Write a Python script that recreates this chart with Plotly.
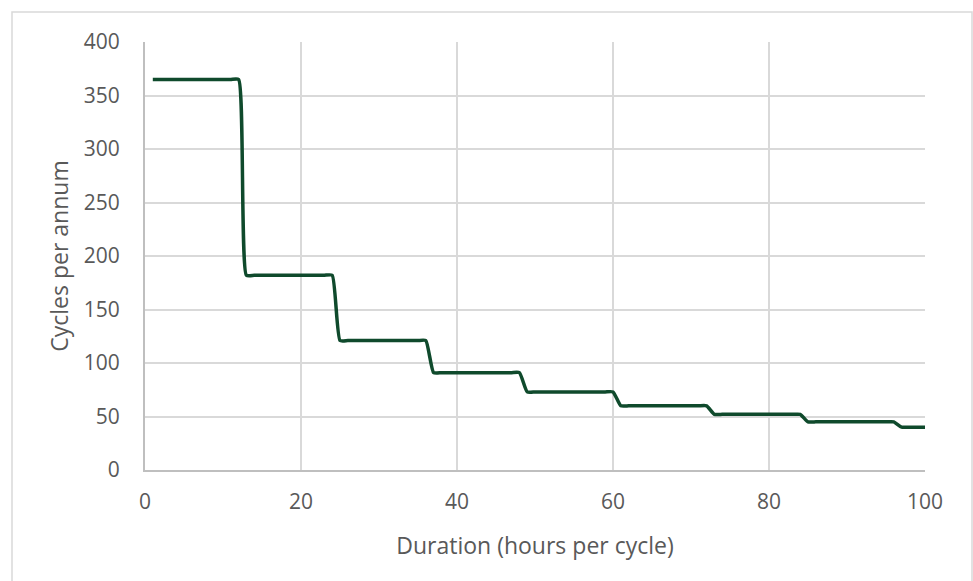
import plotly.graph_objects as go

hours = [1, 2, 3, 4, 5, 6, 7, 8, 9, 10,
         11, 12, 13, 14, 15, 16, 17, 18, 19, 20,
         21, 22, 23, 24, 25, 26, 27, 28, 29, 30,
         31, 32, 33, 34, 35, 36, 37, 38, 39, 40,
         41, 42, 43, 44, 45, 46, 47, 48, 49, 50,
         51, 52, 53, 54, 55, 56, 57, 58, 59, 60,
         61, 62, 63, 64, 65, 66, 67, 68, 69, 70,
         71, 72, 73, 74, 75, 76, 77, 78, 79, 80,
         81, 82, 83, 84, 85, 86, 87, 88, 89, 90,
         91, 92, 93, 94, 95, 96, 97, 98, 99, 100]

cycles = [365, 365, 365, 365, 365, 365, 365, 365, 365, 365,
          365, 365, 182, 182, 182, 182, 182, 182, 182, 182,
          182, 182, 182, 182, 121, 121, 121, 121, 121, 121,
          121, 121, 121, 121, 121, 121, 91, 91, 91, 91,
          91, 91, 91, 91, 91, 91, 91, 91, 73, 73,
          73, 73, 73, 73, 73, 73, 73, 73, 73, 73,
          60, 60, 60, 60, 60, 60, 60, 60, 60, 60,
          60, 60, 52, 52, 52, 52, 52, 52, 52, 52,
          52, 52, 52, 52, 45, 45, 45, 45, 45, 45,
          45, 45, 45, 45, 45, 45, 40, 40, 40, 40]

x_ticks = [0, 20, 40, 60, 80, 100]
y_ticks = [0, 50, 100, 150, 200, 250, 300, 350, 400]

FONT = "Open Sans"
L, R, T, B = 145, 48, 42, 111
W, H = 973, 581
pw, ph = W - L - R, H - T - B

def px_x(p):
    return (p - L) / pw

def px_y(p):
    return (H - B - p) / ph

fig = go.Figure()
fig.add_trace(go.Scatter(
    x=hours, y=cycles, mode="lines",
    line=dict(color="#0F4A2C", width=3.5, shape="spline", smoothing=0.5),
    showlegend=False, hoverinfo="x+y",
))

fig.update_layout(
    width=W, height=H,
    margin=dict(l=L, r=R, t=T, b=B),
    paper_bgcolor="white", plot_bgcolor="white",
    font=dict(family=FONT, color="#595959", size=21),
    shapes=[dict(type="rect", xref="paper", yref="paper",
                 x0=px_x(12), x1=px_x(972), y0=px_y(600), y1=px_y(12),
                 line=dict(color="#D9D9D9", width=1.5), layer="below")],
)
fig.update_xaxes(
    range=[0, 100], tickvals=x_ticks, ticktext=[str(v) for v in x_ticks],
    showgrid=True, gridcolor="#D9D9D9", gridwidth=2,
    showline=True, linecolor="#BFBFBF", linewidth=2,
    zeroline=False, ticks="", ticklen=0, ticklabelstandoff=12,
    tickfont=dict(size=21, color="#595959"),
    title=dict(text="Duration (hours per cycle)", font=dict(size=23, color="#595959"), standoff=24),
)
fig.update_yaxes(
    range=[0, 400], tickvals=y_ticks, ticktext=[str(v) for v in y_ticks],
    showgrid=True, gridcolor="#D9D9D9", gridwidth=2,
    showline=True, linecolor="#BFBFBF", linewidth=2,
    zeroline=False, ticks="", ticklen=0, ticklabelstandoff=19,
    tickfont=dict(size=21, color="#595959"),
    title=dict(text="Cycles per annum", font=dict(size=23, color="#595959"), standoff=9),
)

fig.write_html("out.html")
